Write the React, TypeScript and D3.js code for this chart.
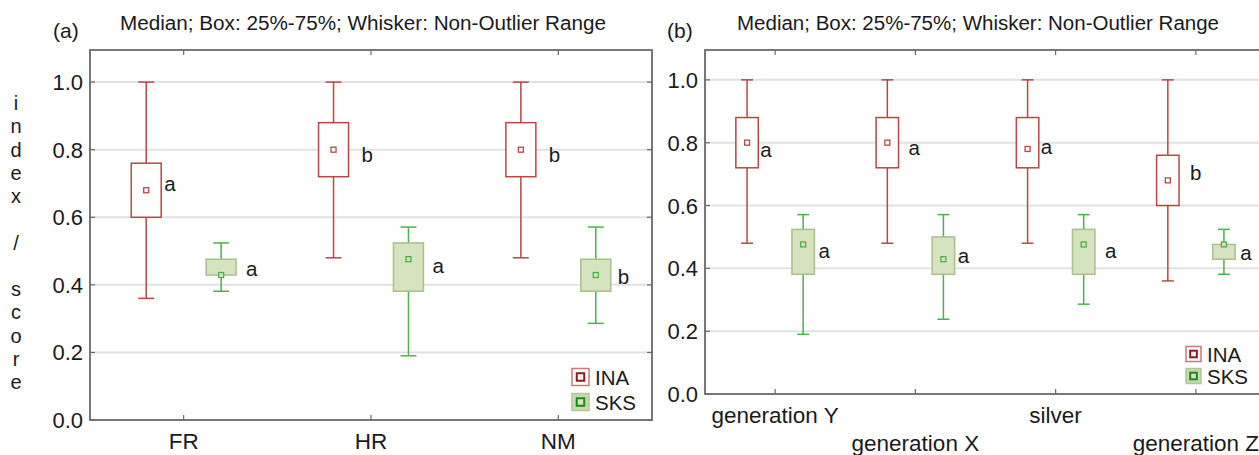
import React from "react";
import * as d3 from "d3";

// ---------- data ----------
const yTicks = [0, 0.2, 0.4, 0.6, 0.8, 1.0];
const yTickLabels = ["0.0", "0.2", "0.4", "0.6", "0.8", "1.0"];

const categoriesA = ["FR", "HR", "NM"];
// [low whisker, q1, median, q3, high whisker]
const inaA = [
  [0.36, 0.6, 0.68, 0.76, 1.0],
  [0.48, 0.72, 0.8, 0.88, 1.0],
  [0.48, 0.72, 0.8, 0.88, 1.0],
];
const sksA = [
  [0.381, 0.429, 0.429, 0.476, 0.524],
  [0.19, 0.381, 0.476, 0.524, 0.571],
  [0.286, 0.381, 0.429, 0.476, 0.571],
];
const inaLettersA = ["a", "b", "b"];
const sksLettersA = ["a", "a", "b"];

const categoriesB = ["generation Y", "generation X", "silver", "generation Z"];
const inaB = [
  [0.48, 0.72, 0.8, 0.88, 1.0],
  [0.48, 0.72, 0.8, 0.88, 1.0],
  [0.48, 0.72, 0.78, 0.88, 1.0],
  [0.36, 0.6, 0.68, 0.76, 1.0],
];
const sksB = [
  [0.19, 0.381, 0.476, 0.524, 0.571],
  [0.238, 0.381, 0.429, 0.5, 0.571],
  [0.286, 0.381, 0.476, 0.524, 0.571],
  [0.381, 0.429, 0.476, 0.476, 0.524],
];
const inaLettersB = ["a", "a", "a", "b"];
const sksLettersB = ["a", "a", "a", "a"];

const seriesNames = ["INA", "SKS"];
const titleText = "Median; Box: 25%-75%; Whisker: Non-Outlier Range";
const yAxisLetters = ["i", "n", "d", "e", "x", "", "/", "", "s", "c", "o", "r", "e"];

// ---------- styles / layout ----------
const FONT = "'Liberation Sans', Arial, sans-serif";
const INA_STROKE = "#b94646";
const SKS_STROKE = "#4cb04c";
const SKS_FILL = "#d6e3bf";
const SKS_BOX_STROKE = "#a9bf8c";
const GRID = "#e2e2e2";
const FRAME = "#6a6a6a";
const TEXT = "#1a1a1a";

// letter label nudges (dx from box right edge, dy of baseline from median)
const inaNudgeA = [[3, 1], [13, 12], [13, 12]];
const sksNudgeA = [[10, 1], [9, 14], [7, 9]];
const inaNudgeB = [[2, 14], [10, 12], [2, 5], [11, 0]];
const sksNudgeB = [[4, 14], [3, 4], [10, 14], [5, 16]];

type PanelProps = {
  tag: string;
  tagX: number;
  titleX: number;
  titleLen: number;
  x0: number;
  x1: number;
  yBottom: number;
  yTop: number;
  categories: string[];
  ina: number[][];
  sks: number[][];
  inaLetters: string[];
  sksLetters: string[];
  inaNudge: number[][];
  sksNudge: number[][];
  twoRows: boolean;
  clipRight: number;
  legendGap: number;
  legendSize: number;
  markSize: number;
};

function Panel(p: PanelProps) {
  const x = d3.scaleBand<string>().domain(p.categories).range([p.x0, p.x1]);
  const y = d3.scaleLinear().domain([0, 1.095]).range([p.yBottom, p.yTop]);
  const bw = x.bandwidth();
  const off = bw * 0.2;
  const boxW = bw * 0.16;
  const capW = bw * 0.085;
  const tickLen = 5;

  const drawBox = (
    v: number[],
    cx: number,
    stroke: string,
    fill: string,
    boxStroke: string,
    key: string
  ) => {
    const [lo, q1, med, q3, hi] = v;
    const m = p.markSize;
    return (
      <g key={key}>
        <line x1={cx} x2={cx} y1={y(hi)} y2={y(q3)} stroke={stroke} strokeWidth={1.5} />
        <line x1={cx} x2={cx} y1={y(q1)} y2={y(lo)} stroke={stroke} strokeWidth={1.5} />
        <line x1={cx - capW / 2} x2={cx + capW / 2} y1={y(hi)} y2={y(hi)} stroke={stroke} strokeWidth={1.5} />
        <line x1={cx - capW / 2} x2={cx + capW / 2} y1={y(lo)} y2={y(lo)} stroke={stroke} strokeWidth={1.5} />
        <rect
          x={cx - boxW / 2}
          y={y(q3)}
          width={boxW}
          height={Math.max(y(q1) - y(q3), 0.5)}
          fill={fill}
          stroke={boxStroke}
          strokeWidth={1.5}
        />
        <rect x={cx - m / 2} y={y(med) - m / 2} width={m} height={m} fill={fill} stroke={stroke} strokeWidth={1.3} />
      </g>
    );
  };

  const legendX = p.x1 - 80;
  const ls = p.legendSize;
  const legendRows = [p.yBottom - 18 - p.legendGap, p.yBottom - 18];

  return (
    <g>
      <clipPath id={`clip-${p.tag}`}>
        <rect x={0} y={0} width={p.clipRight} height={455} />
      </clipPath>
      <text x={p.tagX} y={38} fontSize={21} fontFamily={FONT} fill={TEXT}>
        {`(${p.tag})`}
      </text>
      <text
        x={p.titleX}
        y={29.5}
        fontSize={19.5}
        fontFamily={FONT}
        fill={TEXT}
        textLength={p.titleLen}
        lengthAdjust="spacingAndGlyphs"
      >
        {titleText}
      </text>
      <g clipPath={`url(#clip-${p.tag})`}>
        {/* gridlines */}
        {yTicks.slice(1).map((t) => (
          <line key={t} x1={p.x0} x2={p.x1} y1={y(t)} y2={y(t)} stroke={GRID} strokeWidth={2} />
        ))}
        {/* boxes */}
        {p.categories.map((c, i) => {
          const cx = (x(c) as number) + bw / 2;
          return (
            <g key={c}>
              {drawBox(p.ina[i], cx - off, INA_STROKE, "#ffffff", INA_STROKE, "ina")}
              {drawBox(p.sks[i], cx + off, SKS_STROKE, SKS_FILL, SKS_BOX_STROKE, "sks")}
              <text
                x={cx - off + boxW / 2 + p.inaNudge[i][0]}
                y={y(p.ina[i][2]) + p.inaNudge[i][1]}
                fontSize={20.5}
                fontFamily={FONT}
                fill={TEXT}
              >
                {p.inaLetters[i]}
              </text>
              <text
                x={cx + off + boxW / 2 + p.sksNudge[i][0]}
                y={y(p.sks[i][2]) + p.sksNudge[i][1]}
                fontSize={20.5}
                fontFamily={FONT}
                fill={TEXT}
              >
                {p.sksLetters[i]}
              </text>
            </g>
          );
        })}
        {/* frame */}
        <rect x={p.x0} y={p.yTop} width={p.x1 - p.x0} height={p.yBottom - p.yTop} fill="none" stroke={FRAME} strokeWidth={1.8} />
        {/* inward ticks */}
        {p.categories.map((c) => {
          const cx = (x(c) as number) + bw / 2;
          return (
            <g key={"t" + c}>
              <line x1={cx} x2={cx} y1={p.yTop} y2={p.yTop + tickLen} stroke={FRAME} strokeWidth={1.2} />
              <line x1={cx} x2={cx} y1={p.yBottom} y2={p.yBottom - tickLen} stroke={FRAME} strokeWidth={1.2} />
            </g>
          );
        })}
        {yTicks.map((t) => (
          <g key={"yt" + t}>
            <line x1={p.x0} x2={p.x0 + tickLen} y1={y(t)} y2={y(t)} stroke={FRAME} strokeWidth={1.2} />
            <line x1={p.x1} x2={p.x1 - tickLen} y1={y(t)} y2={y(t)} stroke={FRAME} strokeWidth={1.2} />
          </g>
        ))}
        {/* legend */}
        {seriesNames.map((s, i) => {
          const cy = legendRows[i];
          const isIna = i === 0;
          return (
            <g key={s}>
              <rect
                x={legendX}
                y={cy - ls / 2}
                width={ls}
                height={ls}
                fill={isIna ? "#ffffff" : "#c8d8ad"}
                stroke={isIna ? "#c77a7a" : "#b3c796"}
                strokeWidth={1.5}
              />
              <rect
                x={legendX + ls * 0.28}
                y={cy - ls * 0.22}
                width={ls * 0.44}
                height={ls * 0.44}
                fill={isIna ? "#ffffff" : "#d6e3bf"}
                stroke={isIna ? "#8e1a1a" : "#1b8a1b"}
                strokeWidth={2}
              />
              <text x={legendX + ls + 6} y={cy + 7.5} fontSize={20.5} fontFamily={FONT} fill={TEXT}>
                {s}
              </text>
            </g>
          );
        })}
      </g>
      {/* y tick labels */}
      {yTicks.map((t, i) => (
        <text
          key={"yl" + t}
          x={p.x0 - 7}
          y={y(t) + 8}
          textAnchor="end"
          fontSize={22}
          fontFamily={FONT}
          fill={TEXT}
        >
          {yTickLabels[i]}
        </text>
      ))}
      {/* x tick labels */}
      {p.categories.map((c, i) => {
        const cx = (x(c) as number) + bw / 2;
        const yy = p.twoRows ? (i % 2 === 0 ? p.yBottom + 29 : p.yBottom + 57) : p.yBottom + 29;
        return (
          <text key={"xl" + c} x={cx} y={yy} textAnchor="middle" fontSize={22.5} fontFamily={FONT} fill={TEXT}>
            {c}
          </text>
        );
      })}
    </g>
  );
}

export default function App() {
  return (
    <svg
      width={1259}
      height={455}
      style={{ position: "absolute", left: 0, top: 0, background: "#ffffff" }}
    >
      <rect x={0} y={0} width={1259} height={455} fill="#ffffff" />
      {/* y axis title */}
      {yAxisLetters.map((l, i) => (
        <text key={i} x={16} y={110 + i * 23.25} textAnchor="middle" fontSize={20} fontFamily={FONT} fill={TEXT}>
          {l}
        </text>
      ))}
      <Panel
        tag="a"
        tagX={53}
        titleX={120}
        titleLen={486}
        x0={90}
        x1={652}
        yBottom={420}
        yTop={50}
        categories={categoriesA}
        ina={inaA}
        sks={sksA}
        inaLetters={inaLettersA}
        sksLetters={sksLettersA}
        inaNudge={inaNudgeA}
        sksNudge={sksNudgeA}
        twoRows={false}
        clipRight={700}
        legendGap={25}
        legendSize={17}
        markSize={5}
      />
      <Panel
        tag="b"
        tagX={667}
        titleX={737}
        titleLen={482}
        x0={705}
        x1={1266}
        yBottom={394}
        yTop={50}
        categories={categoriesB}
        ina={inaB}
        sks={sksB}
        inaLetters={inaLettersB}
        sksLetters={sksLettersB}
        inaNudge={inaNudgeB}
        sksNudge={sksNudgeB}
        twoRows={true}
        clipRight={1259}
        legendGap={22}
        legendSize={15}
        markSize={5}
      />
    </svg>
  );
}
